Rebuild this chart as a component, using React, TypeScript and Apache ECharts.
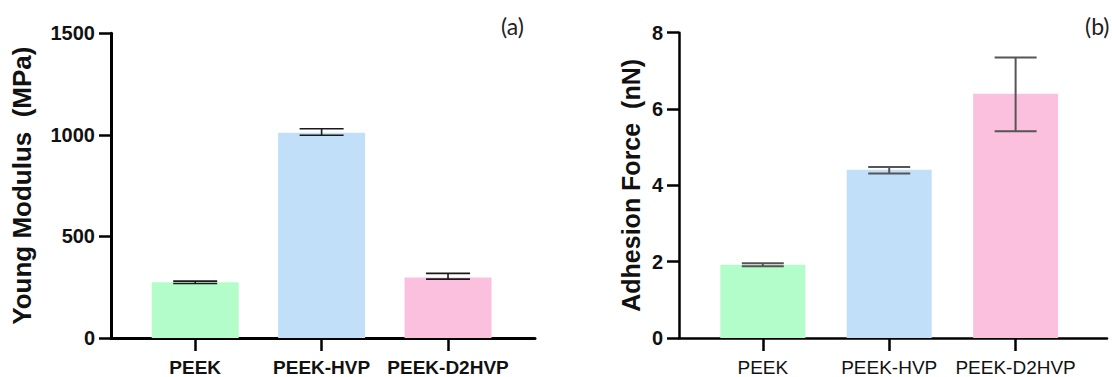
import React, { useEffect, useRef } from "react";
import * as echarts from "echarts";

const categories = ["PEEK", "PEEK-HVP", "PEEK-D2HVP"];
const barColors = ["#b3fdca", "#c1dff8", "#fcc0df"];

const youngMean = [274, 1011, 298];
const youngLow = [268, 998, 290];
const youngHigh = [280, 1030, 318];
const youngTicks = [0, 500, 1000, 1500];

const adhesionMean = [1.92, 4.41, 6.4];
const adhesionLow = [1.88, 4.31, 5.42];
const adhesionHigh = [1.96, 4.48, 7.35];
const adhesionTicks = [0, 2, 4, 6, 8];

const FONT = "Liberation Sans";

export default function App() {
  const ref = useRef<HTMLDivElement>(null);
  useEffect(() => {
    if (!ref.current) return;
    const chart = echarts.init(ref.current, null, { renderer: "svg" });

    const offL = 0.666;
    const offR = 0.663;
    const posL = categories.map((_, i) => i + offL);
    const posR = categories.map((_, i) => i + offR);

    const labelFmt = (pos: number[]) => (v: number) => {
      const i = pos.findIndex((p) => Math.abs(p - v) < 1e-6);
      return i >= 0 ? categories[i] : "";
    };

    const errRender = (half: number, color: string, width: number) =>
      (params: any, api: any) => {
        const x = api.value(0);
        const lo = api.coord([x, api.value(1)]);
        const hi = api.coord([x, api.value(2)]);
        const st = { stroke: color, lineWidth: width };
        return {
          type: "group",
          children: [
            { type: "line", shape: { x1: lo[0], y1: lo[1], x2: hi[0], y2: hi[1] }, style: st },
            { type: "line", shape: { x1: lo[0] - half, y1: lo[1], x2: lo[0] + half, y2: lo[1] }, style: st },
            { type: "line", shape: { x1: hi[0] - half, y1: hi[1], x2: hi[0] + half, y2: hi[1] }, style: st },
          ],
        };
      };

    const xAxisCommon = (max: number, pos: number[], bold: boolean, lw: number) => ({
      type: "value",
      min: 0,
      max,
      axisLine: { show: true, onZero: false, lineStyle: { color: "#000", width: lw } },
      axisTick: {
        show: true,
        customValues: pos,
        length: 13,
        lineStyle: { color: "#000", width: 2.5 },
      },
      axisLabel: {
        show: true,
        customValues: pos,
        formatter: labelFmt(pos),
        margin: 20,
        fontFamily: FONT,
        fontSize: 19,
        fontWeight: bold ? "bold" : "normal",
        color: "#111",
        showMinLabel: true,
        showMaxLabel: true,
      },
      splitLine: { show: false },
    });

    const yAxisCommon = (max: number, interval: number, name: string, gap: number, lw: number, nameSize: number) => ({
      type: "value",
      min: 0,
      max,
      interval,
      name,
      nameLocation: "middle",
      nameGap: gap,
      nameTextStyle: { fontFamily: FONT, fontSize: nameSize, fontWeight: "bold", color: "#111" },
      axisLine: { show: true, lineStyle: { color: "#000", width: lw } },
      axisTick: { show: true, length: 12, lineStyle: { color: "#000", width: 2.5 } },
      axisLabel: {
        margin: 16,
        fontFamily: FONT,
        fontSize: 20,
        fontWeight: "bold",
        color: "#111",
        formatter: (v: number) => String(v),
      },
      splitLine: { show: false },
    });

    chart.setOption({
      animation: false,
      backgroundColor: "#fff",
      textStyle: { fontFamily: FONT },
      grid: [
        { left: 111, right: 577, top: 33.3, bottom: 37 },
        { left: 679, right: 5, top: 32.7, bottom: 38.5 },
      ],
      xAxis: [
        { gridIndex: 0, ...xAxisCommon(3.354, posL, true, 3) },
        { gridIndex: 1, ...xAxisCommon(3.386, posR, false, 2.5) },
      ],
      yAxis: [
        { gridIndex: 0, ...yAxisCommon(youngTicks[youngTicks.length - 1], 500, "Young Modulus  (MPa)", 76, 3, 26) },
        { gridIndex: 1, ...yAxisCommon(adhesionTicks[adhesionTicks.length - 1], 2, "Adhesion Force  (nN)", 36, 2.5, 25) },
      ],
      series: [
        {
          type: "bar",
          xAxisIndex: 0,
          yAxisIndex: 0,
          barWidth: 87,
          data: youngMean.map((v, i) => ({ value: [posL[i], v], itemStyle: { color: barColors[i] } })),
        },
        {
          type: "custom",
          xAxisIndex: 0,
          yAxisIndex: 0,
          renderItem: errRender(22, "#1a1a1a", 1.6),
          data: youngLow.map((lo, i) => [posL[i], lo, youngHigh[i]]),
          z: 5,
        },
        {
          type: "bar",
          xAxisIndex: 1,
          yAxisIndex: 1,
          barWidth: 85,
          data: adhesionMean.map((v, i) => ({ value: [posR[i], v], itemStyle: { color: barColors[i] } })),
        },
        {
          type: "custom",
          xAxisIndex: 1,
          yAxisIndex: 1,
          renderItem: errRender(21, "#555", 2),
          data: adhesionLow.map((lo, i) => [posR[i], lo, adhesionHigh[i]]),
          z: 5,
        },
      ],
      graphic: [
        { type: "text", left: 501, top: 14, style: { text: "(a)", font: "23px Lato", fill: "#222" } },
        { type: "text", left: 1085, top: 14, style: { text: "(b)", font: "23px Lato", fill: "#222" } },
      ],
    });
    return () => chart.dispose();
  }, []);
  return (
    <div
      ref={ref}
      style={{ position: "fixed", left: 0, top: 0, width: 1112, height: 377, background: "#fff" }}
    />
  );
}
